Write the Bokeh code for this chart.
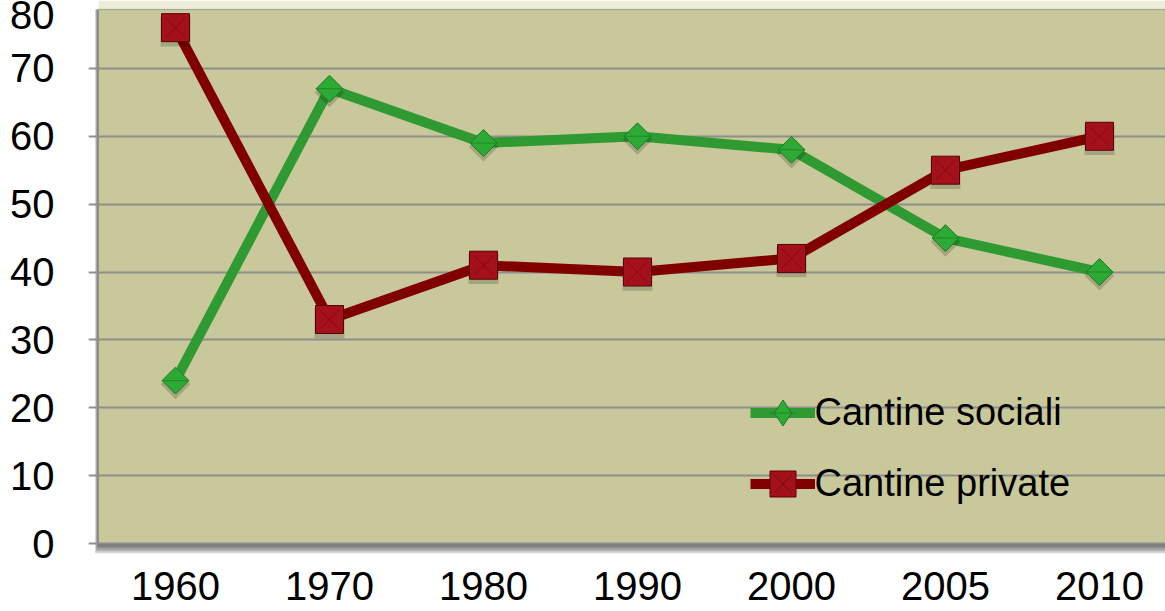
from bokeh.plotting import figure
from bokeh.models import (ColumnDataSource, Range1d, FixedTicker, BoxAnnotation,
                          Legend, LegendItem)
from bokeh.transform import dodge
from bokeh.embed import file_html
from bokeh.resources import INLINE

# ---- data ----
years = ["1960", "1970", "1980", "1990", "2000", "2005", "2010"]
cantine_sociali = [24, 67, 59, 60, 58, 45, 40]
cantine_private = [76, 33, 41, 40, 42, 55, 60]
y_ticks = [0, 10, 20, 30, 40, 50, 60, 70, 80]

x_pos = list(range(len(years)))
src = ColumnDataSource(dict(x=x_pos, soc=cantine_sociali, pri=cantine_private))

# ---- layout constants ----
W, H = 1165, 611
BORDER_L, BORDER_B = 88, 58
PX_X = 154.0            # pixels per category step
PX_Y = 543.0 / 80.0     # pixels per y unit
frame_w = W - BORDER_L
frame_h = H - BORDER_B
x_start = -(87.0 / PX_X)
x_end = x_start + frame_w / PX_X
y_start = -(10.0 / PX_Y)
y_end = y_start + frame_h / PX_Y
area_top = y_end - 9.0 / PX_Y

p = figure(width=W, height=H, output_backend="svg", toolbar_location=None,
           x_range=Range1d(x_start, x_end), y_range=Range1d(y_start, y_end),
           min_border_left=BORDER_L, min_border_right=0, min_border_top=0,
           min_border_bottom=BORDER_B,
           background_fill_color="white", border_fill_color="white",
           outline_line_color=None)

# ---- plot area with soft shadow ----
p.add_layout(BoxAnnotation(left=-0.5, bottom=area_top, fill_color="#d1d1a1",
                           line_color=None, level="image"))
for k in range(1, 8):
    p.add_layout(BoxAnnotation(left=-0.5 - (k * 0.5) / PX_X, bottom=-(k * 1.5) / PX_Y,
                               top=area_top, fill_color="black", fill_alpha=0.11,
                               line_color=None, level="image"))
p.add_layout(BoxAnnotation(left=-0.5, bottom=0, top=area_top, fill_color="#c8c89a",
                           fill_alpha=1.0, line_color="#7e9090", line_width=1.5,
                           level="image"))

# ---- axes & grid ----
p.xgrid.visible = False
p.ygrid.ticker = FixedTicker(ticks=y_ticks[:-1])
p.ygrid.grid_line_color = "#8e8e8e"
p.ygrid.grid_line_width = 2

for ax in (p.xaxis[0], p.yaxis[0]):
    ax.axis_line_color = None
    ax.major_tick_line_color = None
    ax.minor_tick_line_color = None
    ax.major_label_text_font = "Liberation Sans"
    ax.major_label_text_font_size = "40px"
    ax.major_label_text_color = "black"

p.xaxis.ticker = FixedTicker(ticks=x_pos)
p.xaxis.major_label_overrides = {i: y for i, y in enumerate(years)}
p.xaxis.major_label_standoff = 12
p.yaxis.ticker = FixedTicker(ticks=y_ticks)
p.yaxis.major_label_standoff = 28

# ---- series ----
GREEN_LINE = "#2f9a32"
RED_LINE = "#800000"
GREEN_FILL, GREEN_EDGE = "#2caa35", "#1b7a20"
RED_FILL, RED_EDGE = "#a5111b", "#5a0008"

l_soc = p.line("x", "soc", source=src, line_color=GREEN_LINE, line_width=10,
               line_join="round")
l_pri = p.line("x", "pri", source=src, line_color=RED_LINE, line_width=10,
               line_join="round")

# marker shadows
p.scatter("x", dodge("soc", -0.55, range=p.y_range), source=src, marker="square",
          angle=0.785398, size=21, fill_color="black", fill_alpha=0.18, line_color=None)
p.scatter("x", dodge("pri", -0.55, range=p.y_range), source=src, marker="square",
          size=30, fill_color="black", fill_alpha=0.18, line_color=None)

# green diamonds (rotated squares) with bevel
p.scatter("x", "soc", source=src, marker="square", angle=0.785398, size=19,
          fill_color=GREEN_FILL, line_color=GREEN_EDGE, line_width=1)
p.scatter("x", "soc", source=src, marker="dash", size=26, line_color="#177018",
          line_alpha=0.55, line_width=1)

# red squares with bevel
s_pri = p.scatter("x", "pri", source=src, marker="square", size=28,
                  fill_color=RED_FILL, line_color=RED_EDGE, line_width=1)
x_pri = p.scatter("x", "pri", source=src, marker="x", size=28, line_color="#6a0008",
                  line_alpha=0.55, line_width=1)

# legend-only diamond glyphs (placed far outside the visible range)
leg_diamond = p.scatter("x", dodge("soc", 1000, range=p.y_range), source=src,
                        marker="diamond", size=26, fill_color=GREEN_FILL,
                        line_color=GREEN_EDGE, line_width=1)
leg_dash = p.scatter("x", dodge("soc", 1000, range=p.y_range), source=src,
                     marker="dash", size=17, line_color="#177018", line_alpha=0.55,
                     line_width=1)

legend = Legend(items=[LegendItem(label="Cantine sociali",
                                  renderers=[l_soc, leg_diamond, leg_dash]),
                       LegendItem(label="Cantine private",
                                  renderers=[l_pri, s_pri, x_pri])],
                location=(661.5, 37.5), glyph_width=65, glyph_height=65, spacing=6,
                padding=0, margin=0, label_standoff=0,
                border_line_color=None, background_fill_alpha=0,
                label_text_font="Liberation Sans", label_text_font_size="38px",
                label_text_color="black")
p.add_layout(legend)

open("out.html", "w").write(file_html(p, INLINE))
